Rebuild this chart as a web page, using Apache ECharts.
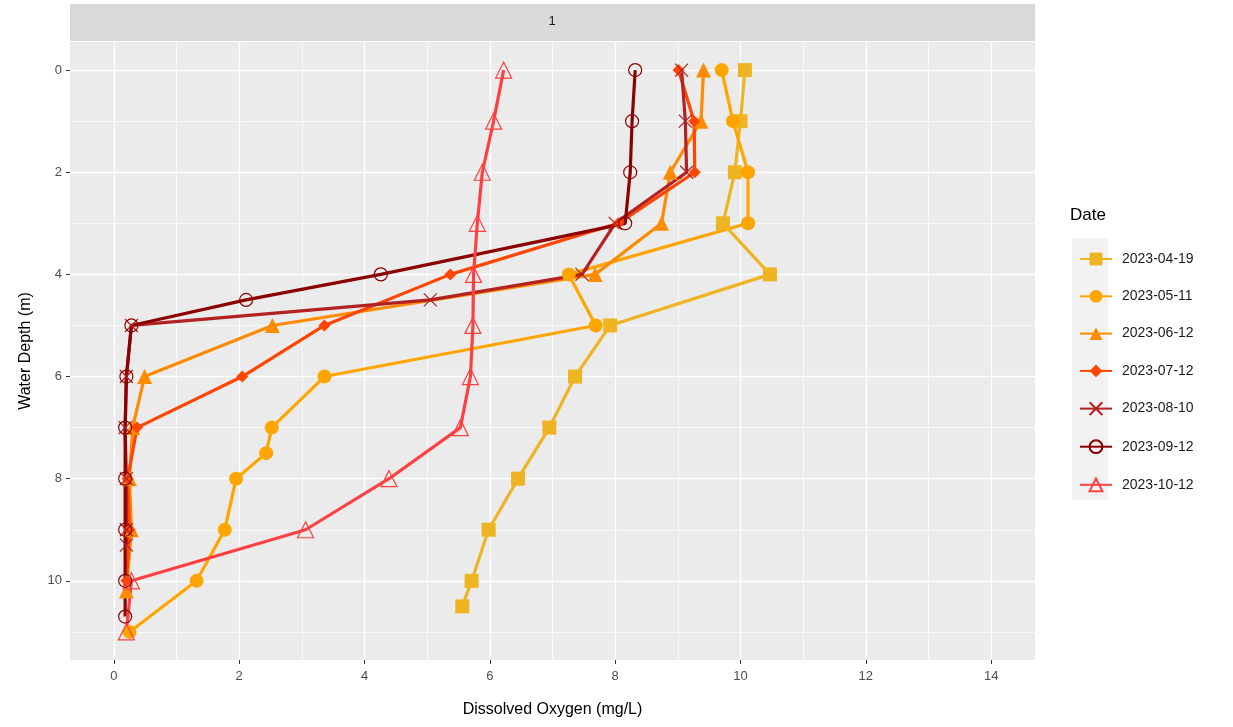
<!DOCTYPE html>
<html>
<head>
<meta charset="utf-8">
<script src="https://cdn.jsdelivr.net/npm/echarts@6/dist/echarts.min.js"></script>
<style>
  html, body { margin: 0; padding: 0; background: #fff; }
  #chart { width: 1233px; height: 727px; }
</style>
</head>
<body>
<div id="chart"></div>
<script>
// sampling dates (legend order)
const dates = ["2023-04-19", "2023-05-11", "2023-06-12", "2023-07-12", "2023-08-10", "2023-09-12", "2023-10-12"];

// depth (m) / dissolved oxygen (mg/L) for each profile
const depth0419 = [0, 1, 2, 3, 4, 5, 6, 7, 8, 9, 10, 10.5];
const do0419 = [10.07, 10.0, 9.91, 9.72, 10.47, 7.92, 7.36, 6.95, 6.45, 5.98, 5.71, 5.56];

const depth0511 = [0, 1, 2, 3, 4, 5, 6, 7, 7.5, 8, 9, 10, 11];
const do0511 = [9.70, 9.88, 10.12, 10.12, 7.26, 7.69, 3.36, 2.52, 2.43, 1.95, 1.77, 1.32, 0.25];

const depth0612 = [0, 1, 2, 3, 4, 5, 6, 7, 8, 9, 10.2];
const do0612 = [9.41, 9.37, 8.88, 8.74, 7.68, 2.53, 0.49, 0.30, 0.25, 0.28, 0.20];

const depth0712 = [0, 1, 2, 3, 4, 5, 6, 7, 8, 9, 10];
const do0712 = [9.01, 9.26, 9.27, 8.05, 5.37, 3.36, 2.05, 0.37, 0.22, 0.25, 0.20];

const depth0810 = [0, 1, 2, 3, 4, 4.5, 5, 6, 7, 8, 9, 9.3];
const do0810 = [9.06, 9.12, 9.14, 8.0, 7.47, 5.05, 0.28, 0.20, 0.18, 0.20, 0.20, 0.20];

const depth0912 = [0, 1, 2, 3, 4, 4.5, 5, 6, 7, 8, 9, 10, 10.7];
const do0912 = [8.32, 8.27, 8.24, 8.16, 4.26, 2.11, 0.28, 0.20, 0.18, 0.18, 0.18, 0.18, 0.18];

const depth1012 = [0, 1, 2, 3, 4, 5, 6, 7, 8, 9, 10, 11];
const do1012 = [6.22, 6.06, 5.88, 5.80, 5.74, 5.73, 5.69, 5.53, 4.39, 3.06, 0.28, 0.20];

const xTicks = [0, 2, 4, 6, 8, 10, 12, 14];
const yTicks = [0, 2, 4, 6, 8, 10];

const profiles = [
  { depth: depth0419, val: do0419, color: "#EEB422", symbol: "rect", size: 14, open: false },
  { depth: depth0511, val: do0511, color: "#FFA500", symbol: "circle", size: 14, open: false },
  { depth: depth0612, val: do0612, color: "#FF8C00", symbol: "triangle", size: 15, open: false },
  { depth: depth0712, val: do0712, color: "#FF4500", symbol: "diamond", size: 12, open: false },
  { depth: depth0810, val: do0810, color: "#B22222", symbol: "path://M0,0L10,10M0,10L10,0", size: 13, open: true },
  { depth: depth0912, val: do0912, color: "#8B0000", symbol: "circle", size: 13, open: true },
  { depth: depth1012, val: do1012, color: "#FF4040", symbol: "triangle", size: 16, open: true }
];

// panel geometry (ggplot panel) and scale limits
const P = { left: 70, top: 42, width: 965, height: 618 };
const xMin = -0.7, xMax = 14.7;
const yMin = -0.55, yMax = 11.55;
const xpx = v => P.left + (v - xMin) / (xMax - xMin) * P.width;
const ypx = v => P.top + (v - yMin) / (yMax - yMin) * P.height;

const tickColor = "#333333";
const labelStyle = { color: "#4D4D4D", fontSize: 13, fontFamily: "Liberation Sans" };
const hidden = { show: false };

const chart = echarts.init(document.getElementById("chart"));

const series = profiles.map((p, i) => ({
  name: dates[i],
  type: "line",
  xAxisIndex: 0,
  yAxisIndex: 0,
  data: p.val.map((v, k) => [v, p.depth[k]]),
  symbol: p.symbol,
  symbolSize: p.size,
  showAllSymbol: true,
  lineStyle: { color: p.color, width: 3.2 },
  itemStyle: p.open
    ? { color: "transparent", borderColor: p.color, borderWidth: 1.2 }
    : { color: p.color, borderWidth: 0 },
  emphasis: { disabled: true },
  animation: false
}));

const option = {
  animation: false,
  grid: [
    // data panel
    { left: P.left, top: P.top, width: P.width, height: P.height, show: true, backgroundColor: "#EBEBEB", borderWidth: 0 },
    // vertical grid lines + x labels
    { left: xpx(0), top: P.top, width: xpx(14) - xpx(0), height: P.height },
    // horizontal major lines + y labels
    { left: P.left, top: ypx(0), width: P.width, height: ypx(10) - ypx(0) },
    // horizontal minor lines
    { left: P.left, top: ypx(1), width: P.width, height: ypx(11) - ypx(1) }
  ],
  xAxis: [
    {
      gridIndex: 0, type: "value", min: xMin, max: xMax,
      axisLine: hidden, axisTick: hidden, axisLabel: hidden, splitLine: hidden,
      name: "Dissolved Oxygen (mg/L)", nameLocation: "middle", nameGap: 42,
      nameTextStyle: { color: "#000", fontSize: 16, fontFamily: "Liberation Sans" }
    },
    {
      gridIndex: 1, type: "value", min: xTicks[0], max: xTicks[xTicks.length - 1], interval: 2,
      axisLine: hidden,
      axisTick: { show: true, length: 4, lineStyle: { color: tickColor, width: 1 } },
      axisLabel: Object.assign({ margin: 10 }, labelStyle),
      splitLine: { show: true, lineStyle: { color: "#FFFFFF", width: 1.4 } },
      minorTick: { show: false, splitNumber: 2 },
      minorSplitLine: { show: true, lineStyle: { color: "#FFFFFF", width: 0.7 } }
    },
    { gridIndex: 2, type: "value", min: 0, max: 1, show: false },
    { gridIndex: 3, type: "value", min: 0, max: 1, show: false }
  ],
  yAxis: [
    {
      gridIndex: 0, type: "value", inverse: true, min: yMin, max: yMax,
      axisLine: hidden, axisTick: hidden, axisLabel: hidden, splitLine: hidden,
      name: "Water Depth (m)", nameLocation: "middle", nameGap: 36,
      nameTextStyle: { color: "#000", fontSize: 16, fontFamily: "Liberation Sans" }
    },
    { gridIndex: 1, type: "value", min: 0, max: 1, show: false },
    {
      gridIndex: 2, type: "value", inverse: true, min: yTicks[0], max: yTicks[yTicks.length - 1], interval: 2,
      axisLine: hidden,
      axisTick: { show: true, length: 4, lineStyle: { color: tickColor, width: 1 } },
      axisLabel: Object.assign({ margin: 8 }, labelStyle),
      splitLine: { show: true, lineStyle: { color: "#FFFFFF", width: 1.4 } }
    },
    {
      gridIndex: 3, type: "value", inverse: true, min: 1, max: 11, interval: 2,
      axisLine: hidden, axisTick: hidden, axisLabel: hidden,
      splitLine: { show: true, lineStyle: { color: "#FFFFFF", width: 0.7 } }
    }
  ],
  legend: {
    data: dates,
    orient: "vertical",
    left: 1074,
    top: 247,
    itemWidth: 32,
    itemHeight: 16,
    itemGap: 23.3,
    textStyle: { color: "#1A1A1A", fontSize: 14, fontFamily: "Liberation Sans", padding: [0, 0, 0, 5] },
    selectedMode: false
  },
  graphic: [
    // facet strip
    { type: "rect", left: P.left, top: 4, shape: { width: P.width, height: 37 }, style: { fill: "#D9D9D9" }, z: -10 },
    { type: "text", x: P.left + P.width / 2 - 4, top: 15, style: { text: "1", fill: "#1A1A1A", font: "13px Liberation Sans" } },
    // legend key background
    { type: "rect", left: 1072, top: 238, shape: { width: 36, height: 262 }, style: { fill: "#F2F2F2" }, z: -10 },
    { type: "text", left: 1070, top: 207, style: { text: "Date", fill: "#000", font: "17px Liberation Sans" } }
  ],
  series: series
};

chart.setOption(option);
</script>
</body>
</html>
